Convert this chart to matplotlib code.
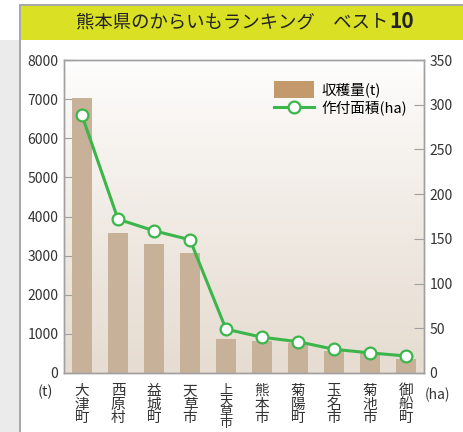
import matplotlib.pyplot as plt
import matplotlib.patches as patches
from matplotlib.lines import Line2D
import numpy as np

plt.rcParams['font.family'] = ['Noto Sans CJK JP', 'DejaVu Sans']

towns = ['大津町', '西原村', '益城町', '天草市', '上天草市',
         '熊本市', '菊陽町', '玉名市', '菊池市', '御船町']
harvest_t = [7020, 3580, 3300, 3070, 870, 820, 770, 570, 520, 360]
area_ha = [288, 172, 159, 149, 49, 40, 35, 26.5, 22.5, 19]

bar_color = '#c8b199'
legend_bar_color = '#c49a6c'
line_color = '#3cb54a'
grid_grey = '#a0a0a0'

fig = plt.figure(figsize=(4.64, 4.32), dpi=100)

# page frame: grey strip on left, banner on top
fig.patches.append(patches.Rectangle((0, 0), 19 / 464, 392 / 432, transform=fig.transFigure,
                                     facecolor='#ebebeb', edgecolor='none', zorder=0))
fig.patches.append(patches.Rectangle((19 / 464, 0), 2 / 464, 428 / 432, transform=fig.transFigure,
                                     facecolor='#a8a8a8', edgecolor='none', zorder=1))
fig.patches.append(patches.Rectangle((19 / 464, 426 / 432), 445 / 464, 2 / 432, transform=fig.transFigure,
                                     facecolor='#a8a8a8', edgecolor='none', zorder=1))
fig.patches.append(patches.Rectangle((21 / 464, 392 / 432), 443 / 464, 34 / 432, transform=fig.transFigure,
                                     facecolor='#dae023', edgecolor='none', zorder=1))
title = fig.text(76 / 464, 410 / 432, '熊本県のからいもランキング　ベスト', fontsize=13.2,
                 ha='left', va='center', color='#222222')
renderer = fig.canvas.get_renderer()
title_end = title.get_window_extent(renderer).x1
fig.text(title_end / 464 + 1 / 464, 410 / 432, '10', fontsize=15, fontweight='bold',
         ha='left', va='center', color='#222222')

ax = fig.add_axes([64 / 464, 59 / 432, 360 / 464, 313 / 432])
x = np.arange(len(towns))

# gradient background
grad = np.linspace(0, 1, 256).reshape(-1, 1)
top = np.array([1.0, 1.0, 1.0])
bottom = np.array([0xe6, 0xdc, 0xd1]) / 255
img = top + (bottom - top) * grad[:, :, None] ** 0.8
ax.imshow(img, extent=[-0.5, len(towns) - 0.5, 0, 8000], aspect='auto', zorder=0)

ax.bar(x, harvest_t, width=0.58, color=bar_color, zorder=2)
ax.set_xlim(-0.5, len(towns) - 0.5)
ax.set_ylim(0, 8000)
ax.set_yticks(range(0, 8001, 1000))
ax.set_xticks(x)
ax.set_xticklabels(['\n'.join(t) for t in towns], fontsize=10.5, linespacing=0.95, color='#333333')
for lbl in ax.get_xticklabels():
    if len(lbl.get_text()) > 6:
        lbl.set_fontsize(9.5)
        lbl.set_linespacing(0.8)

ax2 = ax.twinx()
ax2.plot(x, area_ha, color=line_color, lw=2.2, marker='o', markersize=8.5,
         markerfacecolor='white', markeredgecolor=line_color, markeredgewidth=1.6, zorder=3)
ax2.set_ylim(0, 350)
ax2.set_yticks(range(0, 351, 50))

for a in (ax, ax2):
    for s in a.spines.values():
        s.set_color(grid_grey)
        s.set_linewidth(1)
    a.tick_params(axis='y', direction='in', length=7, color=grid_grey,
                  labelsize=10, labelcolor='#333333', pad=4)
ax.tick_params(axis='x', length=0, pad=8)

fig.text(45 / 464, 40 / 432, '(t)', fontsize=10.5, ha='center', va='center', color='#333333')
fig.text(438 / 464, 37 / 432, '(ha)', fontsize=10, ha='center', va='center', color='#333333')

handles = [patches.Patch(facecolor=legend_bar_color, edgecolor='none'),
           Line2D([], [], color=line_color, lw=2.2, marker='o', markersize=8.5,
                  markerfacecolor='white', markeredgecolor=line_color, markeredgewidth=1.6)]
ax2.legend(handles, ['収穫量(t)', '作付面積(ha)'], loc='upper right',
           bbox_to_anchor=(0.99, 0.975), frameon=False, fontsize=10.5,
           handlelength=2.8, handleheight=1.4, labelspacing=0.15, handletextpad=0.5)

fig.savefig('out.png', dpi=100)
